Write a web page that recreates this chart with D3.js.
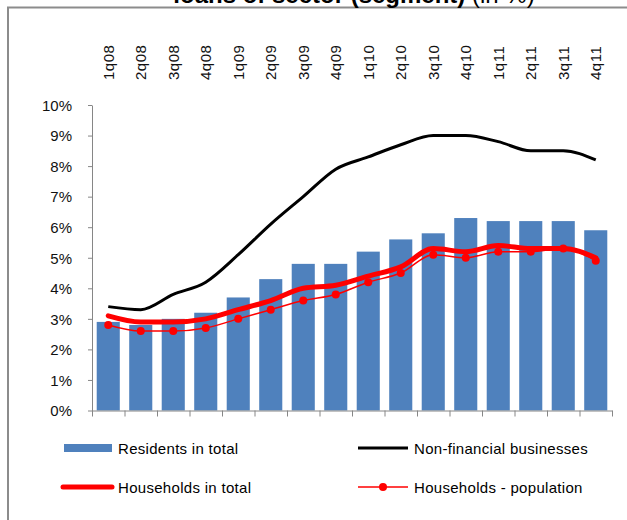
<!DOCTYPE html>
<html>
<head>
<meta charset="utf-8">
<script src="https://cdn.jsdelivr.net/npm/d3@7"></script>
<style>
  body { margin: 0; background: #fff; }
  svg { display: block; font-family: "Liberation Sans", Arial, sans-serif; }
</style>
</head>
<body>
<svg width="627" height="520"></svg>
<script>
// data ======================================================
var quarters = ["1q08", "2q08", "3q08", "4q08", "1q09", "2q09", "3q09", "4q09",
                "1q10", "2q10", "3q10", "4q10", "1q11", "2q11", "3q11", "4q11"];
var residents = [2.9, 2.8, 3.0, 3.2, 3.7, 4.3, 4.8, 4.8, 5.2, 5.6, 5.8, 6.3, 6.2, 6.2, 6.2, 5.9];
var nonFinancial = [3.4, 3.3, 3.8, 4.2, 5.1, 6.1, 7.0, 7.9, 8.3, 8.7, 9.0, 9.0, 8.8, 8.5, 8.5, 8.2];
var householdsTotal = [3.1, 2.9, 2.9, 3.0, 3.3, 3.6, 4.0, 4.1, 4.4, 4.7, 5.3, 5.2, 5.4, 5.3, 5.3, 5.0];
var householdsPop = [2.8, 2.6, 2.6, 2.7, 3.0, 3.3, 3.6, 3.8, 4.2, 4.5, 5.1, 5.0, 5.2, 5.2, 5.3, 4.9];
var yTicks = [0, 1, 2, 3, 4, 5, 6, 7, 8, 9, 10];

var svg = d3.select("svg");

// frame + title (title cut off at the top like the original)
svg.append("rect")
    .attr("x", 8).attr("y", 7.5).attr("width", 700).attr("height", 600)
    .attr("fill", "none").attr("stroke", "#8c8c8c").attr("stroke-width", 2);

var title = svg.append("text")
    .attr("x", 354).attr("y", 3)
    .attr("text-anchor", "middle")
    .style("font-size", "24px").style("font-weight", "bold").attr("fill", "#000");
title.append("tspan").text("loans of sector (segment) ");
title.append("tspan").style("font-weight", "normal").text("(in %)");

// scales ====================================================
var x = d3.scaleBand().domain(quarters).range([92, 612])
    .paddingInner(0.29).paddingOuter(0.145);
var xEdge = d3.scaleLinear().domain([0, quarters.length]).range(x.range());
var y = d3.scaleLinear().domain([0, 10]).range([410.5, 105]);
var cx = function(i) { return x(quarters[i]) + x.bandwidth() / 2; };

// bars
svg.append("g").selectAll("rect")
    .data(residents)
    .enter().append("rect")
    .attr("x", function(d, i) { return x(quarters[i]); })
    .attr("y", function(d) { return y(d); })
    .attr("width", x.bandwidth())
    .attr("height", function(d) { return y(0) - y(d); })
    .attr("fill", "#4F81BD");

// axes
var yAxis = svg.append("g").attr("transform", "translate(92,0)")
    .call(d3.axisLeft(y).tickValues(yTicks).tickSize(4).tickSizeOuter(0)
      .tickFormat(function(d) { return d + "%"; }));
yAxis.selectAll("path, line").attr("stroke", "#868686");
yAxis.selectAll("text").style("font-size", "15px").attr("fill", "#111")
    .attr("x", -20).attr("dy", "0.35em");

var xAxis = svg.append("g").attr("transform", "translate(0," + y(0) + ")")
    .call(d3.axisBottom(xEdge).tickValues(d3.range(quarters.length + 1))
      .tickSize(6).tickSizeOuter(0).tickFormat(""));
xAxis.selectAll("path, line").attr("stroke", "#868686");

// category labels on top, rotated
svg.append("g").selectAll("text")
    .data(quarters)
    .enter().append("text")
    .attr("transform", function(d, i) { return "translate(" + cx(i) + ",80) rotate(-90)"; })
    .attr("dy", "0.35em")
    .style("font-size", "15px").style("letter-spacing", "0.5px")
    .attr("fill", "#111")
    .text(function(d) { return d; });

// lines
var line = d3.line()
    .x(function(d, i) { return cx(i); })
    .y(function(d) { return y(d); })
    .curve(d3.curveMonotoneX);

svg.append("path").datum(nonFinancial)
    .attr("d", line).attr("fill", "none")
    .attr("stroke", "#000").attr("stroke-width", 3);

svg.append("path").datum(householdsPop)
    .attr("d", line).attr("fill", "none")
    .attr("stroke", "#FF0000").attr("stroke-width", 1.5);

svg.append("path").datum(householdsTotal)
    .attr("d", line).attr("fill", "none")
    .attr("stroke", "#FF0000").attr("stroke-width", 5)
    .attr("stroke-linejoin", "round").attr("stroke-linecap", "round");

svg.append("g").selectAll("circle")
    .data(householdsPop)
    .enter().append("circle")
    .attr("cx", function(d, i) { return cx(i); })
    .attr("cy", function(d) { return y(d); })
    .attr("r", 4)
    .attr("fill", "#FF0000");

// legend ====================================================
var legend = svg.append("g").style("font-size", "15px").style("letter-spacing", "0.3px");

legend.append("rect").attr("x", 64).attr("y", 444).attr("width", 48).attr("height", 8)
    .attr("fill", "#4F81BD");
legend.append("text").attr("x", 118).attr("y", 454).text("Residents in total");

legend.append("line").attr("x1", 358).attr("x2", 408).attr("y1", 448).attr("y2", 448)
    .attr("stroke", "#000").attr("stroke-width", 3);
legend.append("text").attr("x", 414).attr("y", 454).text("Non-financial businesses");

legend.append("line").attr("x1", 63).attr("x2", 112).attr("y1", 487).attr("y2", 487)
    .attr("stroke", "#FF0000").attr("stroke-width", 5).attr("stroke-linecap", "round");
legend.append("text").attr("x", 118).attr("y", 493).text("Households in total");

legend.append("line").attr("x1", 358).attr("x2", 408).attr("y1", 487).attr("y2", 487)
    .attr("stroke", "#FF0000").attr("stroke-width", 1.5);
legend.append("circle").attr("cx", 383).attr("cy", 487).attr("r", 4).attr("fill", "#FF0000");
legend.append("text").attr("x", 414).attr("y", 493).text("Households - population");
</script>
</body>
</html>
